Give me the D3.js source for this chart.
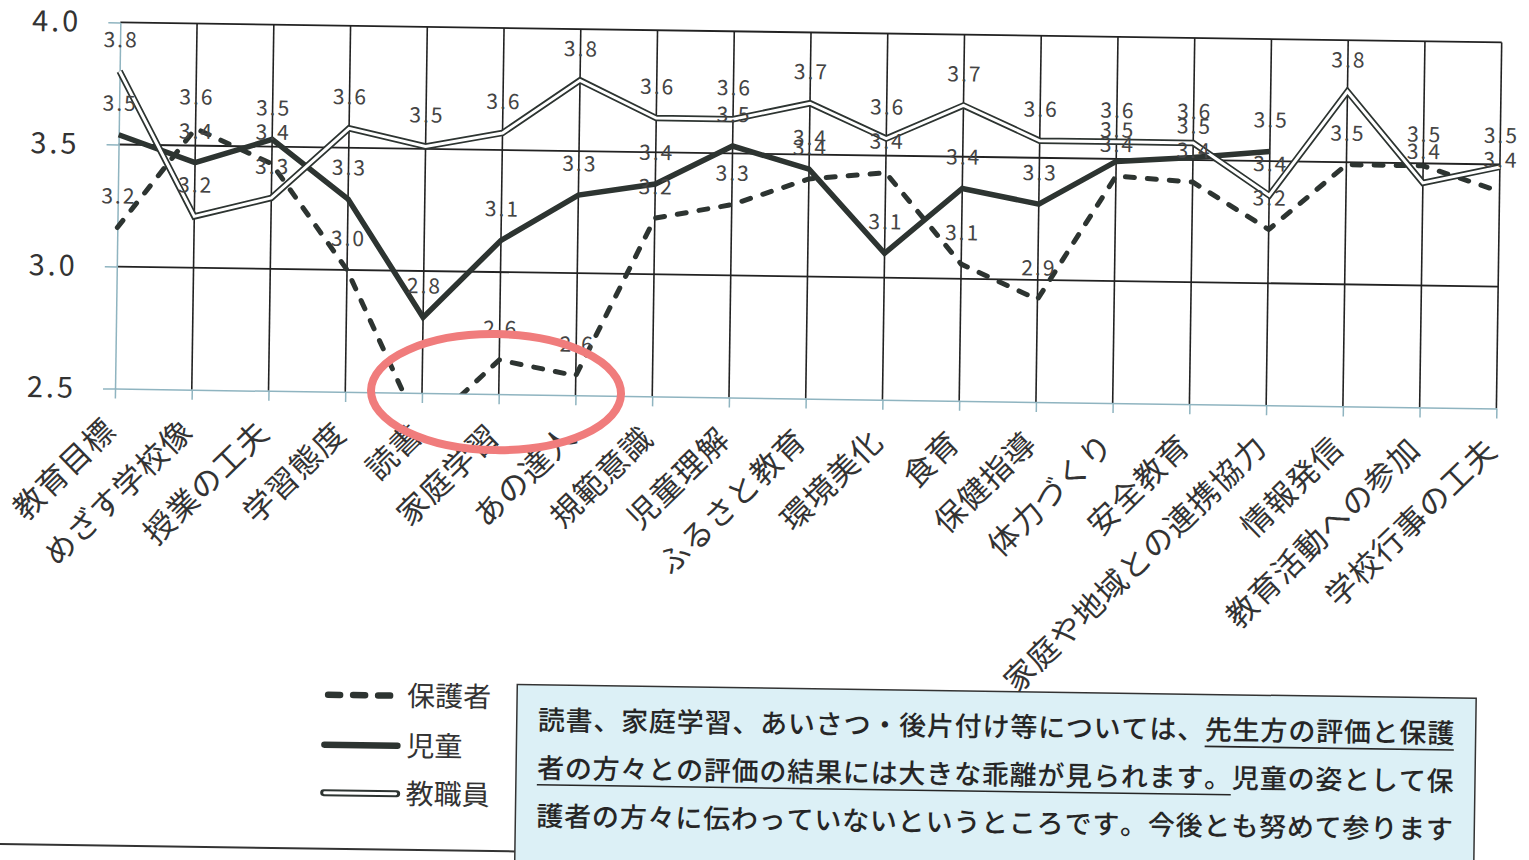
<!DOCTYPE html>
<html>
<head>
<meta charset="utf-8">
<script src="https://cdn.jsdelivr.net/npm/d3@7"></script>
<style>
body { margin: 0; background: #fff; overflow: hidden; }
svg { font-family: "Noto Sans CJK JP", "Noto Sans", sans-serif; }
</style>
</head>
<body>
<script>
// Data //////////////////////////////////////////////
var categories = ["教育目標", "めざす学校像", "授業の工夫", "学習態度", "読書", "家庭学習", "あの達人",
	"規範意識", "児童理解", "ふるさと教育", "環境美化", "食育", "保健指導", "体力づくり", "安全教育",
	"家庭や地域との連携協力", "情報発信", "教育活動への参加", "学校行事の工夫"];

var parentScores = [3.16, 3.57, 3.43, 3.00, 2.34, 2.64, 2.58, 3.23, 3.29, 3.40, 3.43, 3.06, 2.92, 3.43, 3.41, 3.22, 3.49, 3.49, 3.39];
var childScores  = [3.54, 3.43, 3.53, 3.29, 2.81, 3.13, 3.32, 3.37, 3.53, 3.44, 3.10, 3.37, 3.31, 3.49, 3.51, 3.54, null, null, null];
var staffScores  = [3.80, 3.21, 3.29, 3.58, 3.51, 3.57, 3.79, 3.64, 3.64, 3.71, 3.57, 3.71, 3.57, 3.57, 3.57, 3.36, 3.79, 3.42, 3.49];

var yTicks = [2.5, 3.0, 3.5, 4.0];
var seriesNames = ["保護者", "児童", "教職員"];

var noteLines = [
	"読書、家庭学習、あいさつ・後片付け等については、先生方の評価と保護",
	"者の方々との評価の結果には大きな乖離が見られます。児童の姿として保",
	"護者の方々に伝わっていないというところです。今後とも努めて参ります"
];
// [line, first char, end char] of the underlined part
var underlineSpans = [[0, 24, 33], [1, 0, 25]];

// SVG setup //////////////////////////////////////////////
var W = 1529, H = 860;
var ink = "#2d3431";

var svg = d3.select("body").append("svg")
	.attr("width", W)
	.attr("height", H);

// the scanned page sits slightly tilted
var page = svg.append("g").attr("transform", "rotate(0.83,764,430)");

var plot = {left: 114.5, right: 1496, top: 31.8, bottom: 398};

var x = d3.scalePoint().domain(categories).range([plot.left, plot.right]);
var y = d3.scaleLinear().domain([2.5, 4.0]).range([plot.bottom, plot.top]);

svg.append("defs").append("clipPath").attr("id", "plotClip")
	.append("rect")
		.attr("x", plot.left - 10).attr("y", plot.top - 10)
		.attr("width", plot.right - plot.left + 20)
		.attr("height", plot.bottom - plot.top + 10);

// grid lines
page.append("g").selectAll("line.h")
	.data(yTicks.filter(function(d){ return d > 2.5; }))
	.enter().append("line")
		.attr("x1", plot.left).attr("x2", plot.right)
		.attr("y1", function(d){ return y(d); })
		.attr("y2", function(d){ return y(d); })
		.attr("stroke", "#222").attr("stroke-width", 1.8);

page.append("g").selectAll("line.v")
	.data(categories.slice(1))
	.enter().append("line")
		.attr("x1", function(d){ return x(d); })
		.attr("x2", function(d){ return x(d); })
		.attr("y1", y(4.0)).attr("y2", y(2.5))
		.attr("stroke", "#222").attr("stroke-width", 1.6);

// y axis
var yAxis = d3.axisLeft(y)
	.tickValues(yTicks)
	.tickSize(12).tickSizeOuter(0).tickPadding(27)
	.tickFormat(d3.format(".1f"));

var yg = page.append("g")
	.attr("transform", "translate(" + plot.left + ",0)")
	.call(yAxis);
yg.selectAll("path, line").attr("stroke", "#8fb4c0").attr("stroke-width", 1.5);
yg.selectAll("text").attr("font-size", 29).attr("letter-spacing", 3)
	.attr("fill", "#333").attr("font-family", "Noto Sans CJK JP");

// x axis
var xAxis = d3.axisBottom(x).tickSize(10).tickSizeOuter(0);
var xg = page.append("g")
	.attr("transform", "translate(0," + plot.bottom + ")")
	.call(xAxis);
xg.selectAll("path, line").attr("stroke", "#8fb4c0").attr("stroke-width", 1.5);
xg.selectAll("text")
	.attr("x", 0).attr("y", 0).attr("dy", 0)
	.attr("text-anchor", "end")
	.attr("transform", "translate(3,44) rotate(-45)")
	.attr("font-size", 31).attr("letter-spacing", 1)
	.attr("fill", "#333")
	.attr("font-family", "Noto Sans CJK JP");

// series lines
var line = d3.line()
	.defined(function(d){ return d != null; })
	.x(function(d, i){ return x(categories[i]); })
	.y(function(d){ return y(d); });

var lines = page.append("g").attr("clip-path", "url(#plotClip)");

lines.append("path").datum(parentScores)
	.attr("d", line).attr("fill", "none")
	.attr("stroke", ink).attr("stroke-width", 5)
	.attr("stroke-dasharray", "9,13").attr("stroke-linecap", "round");

lines.append("path").datum(childScores)
	.attr("d", line).attr("fill", "none")
	.attr("stroke", ink).attr("stroke-width", 5.5);

lines.append("path").datum(staffScores)
	.attr("d", line).attr("fill", "none")
	.attr("stroke", ink).attr("stroke-width", 6.5);
lines.append("path").datum(staffScores)
	.attr("d", line).attr("fill", "none")
	.attr("stroke", "#fff").attr("stroke-width", 3);

// value labels
var allSeries = [parentScores, childScores, staffScores];
allSeries.forEach(function(values){
	page.append("g").selectAll("text")
		.data(values.map(function(v, i){ return {v: v, c: categories[i]}; })
			.filter(function(d){ return d.v != null && d.v >= 2.5; }))
		.enter().append("text")
			.attr("x", function(d){ return x(d.c) + 1; })
			.attr("y", function(d){ return y(d.v) - 24; })
			.attr("text-anchor", "middle")
			.attr("font-size", 21).attr("letter-spacing", 2)
			.attr("fill", "#444")
			.text(function(d){ return d3.format(".1f")(d.v); });
});

// legend
var legendY = [701, 751, 799];
var legend = page.append("g");
seriesNames.forEach(function(name, i){
	var ly = legendY[i];
	if (i == 0) {
		legend.append("line").attr("x1", 332).attr("x2", 399).attr("y1", ly).attr("y2", ly)
			.attr("stroke", ink).attr("stroke-width", 6.5)
			.attr("stroke-dasharray", "12,13").attr("stroke-linecap", "round");
	} else if (i == 1) {
		legend.append("line").attr("x1", 329).attr("x2", 402).attr("y1", ly).attr("y2", ly)
			.attr("stroke", ink).attr("stroke-width", 6.5).attr("stroke-linecap", "round");
	} else {
		legend.append("line").attr("x1", 329).attr("x2", 402).attr("y1", ly).attr("y2", ly)
			.attr("stroke", ink).attr("stroke-width", 7).attr("stroke-linecap", "round");
		legend.append("line").attr("x1", 330).attr("x2", 401).attr("y1", ly).attr("y2", ly)
			.attr("stroke", "#fff").attr("stroke-width", 3).attr("stroke-linecap", "round");
	}
	legend.append("text")
		.attr("x", 411).attr("y", ly).attr("dy", "0.36em")
		.attr("font-size", 28).attr("fill", "#333")
		.text(name);
});

// note box
page.append("line").attr("x1", -10).attr("x2", 521).attr("y1", 855).attr("y2", 855)
	.attr("stroke", "#333").attr("stroke-width", 2);

page.append("rect")
	.attr("x", 521).attr("y", 688).attr("width", 959).attr("height", 220)
	.attr("fill", "#dcf0f6").attr("stroke", "#333").attr("stroke-width", 1.5);

var textLeft = 542, pitch = 27.8;
var lineBase = [733, 781, 829];

noteLines.forEach(function(txt, i){
	var chars = Array.from(txt);
	page.append("text")
		.attr("x", chars.map(function(c, k){ return textLeft + k * pitch; }).join(" "))
		.attr("y", lineBase[i])
		.attr("font-size", 27).attr("font-weight", 500).attr("fill", "#262626")
		.text(txt);
});

underlineSpans.forEach(function(s){
	page.append("line")
		.attr("x1", textLeft + s[1] * pitch)
		.attr("x2", textLeft + s[2] * pitch - 1)
		.attr("y1", lineBase[s[0]] + 7).attr("y2", lineBase[s[0]] + 7)
		.attr("stroke", "#262626").attr("stroke-width", 1.6);
});

// hand-drawn highlight
page.append("ellipse")
	.attr("cx", 495.5).attr("cy", 396)
	.attr("rx", 125).attr("ry", 58)
	.attr("fill", "none")
	.attr("stroke", "#f07c7c").attr("stroke-width", 8);
</script>
</body>
</html>
